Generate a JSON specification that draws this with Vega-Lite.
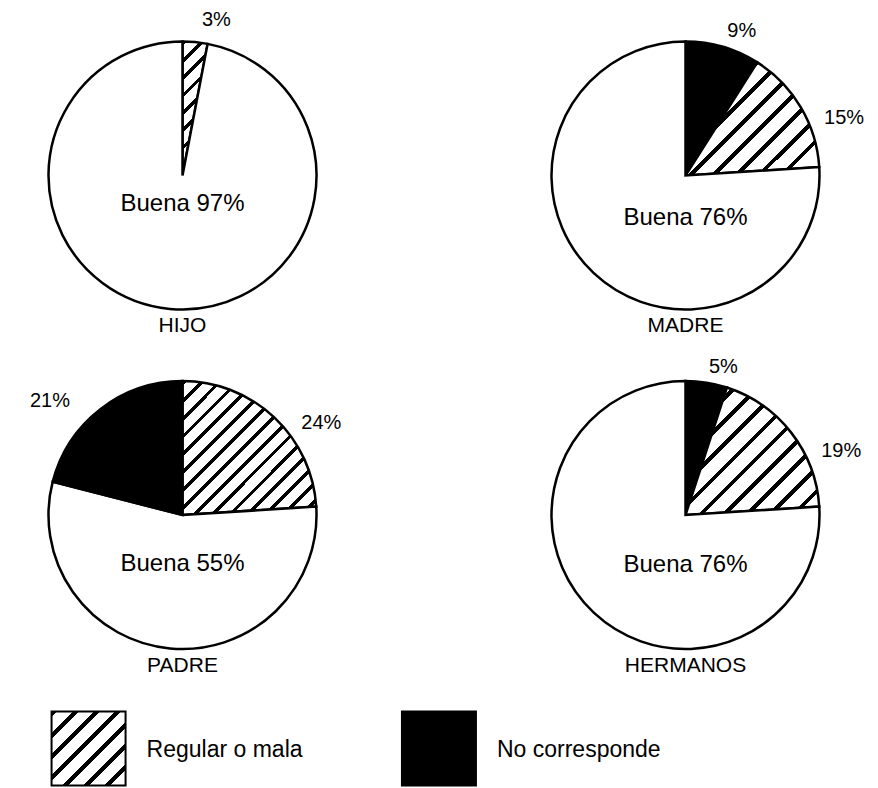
{
  "$schema": "https://vega.github.io/schema/vega-lite/v6.json",
  "padding": {"left": 29.5, "top": 9, "right": 0, "bottom": 0},
  "background": "white",
  "config": {
    "font": "Liberation Sans",
    "view": {"stroke": null},
    "title": {"fontSize": 21, "fontWeight": "normal", "color": "black", "offset": -3, "baseline": "top"}
  },
  "datasets": {
    "tabla": [
      {"relacion": "HIJO", "categoria": "Regular o mala", "valor": 3, "rotulo": "3%", "orden": 1},
      {"relacion": "HIJO", "categoria": "Buena", "valor": 97, "rotulo": "Buena 97%", "orden": 2},
      {"relacion": "MADRE", "categoria": "No corresponde", "valor": 9, "rotulo": "9%", "orden": 1},
      {"relacion": "MADRE", "categoria": "Regular o mala", "valor": 15, "rotulo": "15%", "orden": 2},
      {"relacion": "MADRE", "categoria": "Buena", "valor": 76, "rotulo": "Buena 76%", "orden": 3},
      {"relacion": "PADRE", "categoria": "Regular o mala", "valor": 24, "rotulo": "24%", "orden": 1},
      {"relacion": "PADRE", "categoria": "Buena", "valor": 55, "rotulo": "Buena 55%", "orden": 2},
      {"relacion": "PADRE", "categoria": "No corresponde", "valor": 21, "rotulo": "21%", "orden": 3},
      {"relacion": "HERMANOS", "categoria": "No corresponde", "valor": 5, "rotulo": "5%", "orden": 1},
      {"relacion": "HERMANOS", "categoria": "Regular o mala", "valor": 19, "rotulo": "19%", "orden": 2},
      {"relacion": "HERMANOS", "categoria": "Buena", "valor": 76, "rotulo": "Buena 76%", "orden": 3}
    ],
    "leyenda": [
      {"categoria": "Regular o mala"},
      {"categoria": "No corresponde"}
    ]
  },
  "spacing": 31,
  "vconcat": [
    {
      "columns": 2,
      "bounds": "flush",
      "spacing": {"row": 54.5, "column": 203},
      "concat": [
        {
          "width": 300, "height": 285,
          "data": {"name": "tabla"},
          "transform": [{"filter": "datum.relacion === 'HIJO'"}],
          "title": {"text": "HIJO", "orient": "bottom"},
          "layer": [
            {
              "mark": {"type": "arc", "outerRadius": 134, "stroke": "black", "strokeWidth": 2.5},
              "encoding": {
                "theta": {"field": "valor", "type": "quantitative", "stack": true},
                "order": {"field": "orden", "type": "quantitative"},
                "fill": {
                  "condition": [
                    {"test": "datum.categoria === 'Regular o mala'", "value": {"gradient": "linear", "x1": 0, "y1": 0, "x2": 0.187, "y2": 1, "stops": [
                      {"offset": 0, "color": "black"}, {"offset": 0.035, "color": "black"}, {"offset": 0.035, "color": "white"}, {"offset": 0.125, "color": "white"},
                      {"offset": 0.125, "color": "black"}, {"offset": 0.16, "color": "black"}, {"offset": 0.16, "color": "white"}, {"offset": 0.25, "color": "white"},
                      {"offset": 0.25, "color": "black"}, {"offset": 0.285, "color": "black"}, {"offset": 0.285, "color": "white"}, {"offset": 0.375, "color": "white"},
                      {"offset": 0.375, "color": "black"}, {"offset": 0.41, "color": "black"}, {"offset": 0.41, "color": "white"}, {"offset": 0.5, "color": "white"},
                      {"offset": 0.5, "color": "black"}, {"offset": 0.535, "color": "black"}, {"offset": 0.535, "color": "white"}, {"offset": 0.625, "color": "white"},
                      {"offset": 0.625, "color": "black"}, {"offset": 0.66, "color": "black"}, {"offset": 0.66, "color": "white"}, {"offset": 0.75, "color": "white"},
                      {"offset": 0.75, "color": "black"}, {"offset": 0.785, "color": "black"}, {"offset": 0.785, "color": "white"}, {"offset": 0.875, "color": "white"},
                      {"offset": 0.875, "color": "black"}, {"offset": 0.91, "color": "black"}, {"offset": 0.91, "color": "white"}, {"offset": 1, "color": "white"}
                    ]}},
                    {"test": "datum.categoria === 'No corresponde'", "value": "black"}
                  ],
                  "value": "white"
                }
              }
            },
            {
              "mark": {"type": "text", "radius": {"expr": "datum.categoria === 'Buena' ? 0 : 157"}, "thetaOffset": {"expr": "datum.categoria === 'Regular o mala' ? 0.03 : 0"}, "align": "left", "baseline": "middle", "fontSize": 20, "color": "black"},
              "encoding": {
                "theta": {"field": "valor", "type": "quantitative", "stack": true},
                "order": {"field": "orden", "type": "quantitative"},
                "text": {"condition": {"test": "datum.categoria !== 'Buena'", "field": "rotulo"}, "value": ""}
              }
            },
            {
              "transform": [{"filter": "datum.categoria === 'Buena'"}],
              "mark": {"type": "text", "dy": 28, "align": "center", "baseline": "middle", "fontSize": 24, "color": "black"},
              "encoding": {"text": {"field": "rotulo"}}
            }
          ]
        },
        {
          "width": 300, "height": 285,
          "data": {"name": "tabla"},
          "transform": [{"filter": "datum.relacion === 'MADRE'"}],
          "title": {"text": "MADRE", "orient": "bottom"},
          "layer": [
            {
              "mark": {"type": "arc", "outerRadius": 134, "stroke": "black", "strokeWidth": 2.5},
              "encoding": {
                "theta": {"field": "valor", "type": "quantitative", "stack": true},
                "order": {"field": "orden", "type": "quantitative"},
                "fill": {
                  "condition": [
                    {"test": "datum.categoria === 'Regular o mala'", "value": {"gradient": "linear", "x1": 0, "y1": 0, "x2": 1, "y2": 0.847, "stops": [
                      {"offset": 0, "color": "black"}, {"offset": 0.024, "color": "black"}, {"offset": 0.024, "color": "white"}, {"offset": 0.1, "color": "white"},
                      {"offset": 0.1, "color": "black"}, {"offset": 0.124, "color": "black"}, {"offset": 0.124, "color": "white"}, {"offset": 0.2, "color": "white"},
                      {"offset": 0.2, "color": "black"}, {"offset": 0.224, "color": "black"}, {"offset": 0.224, "color": "white"}, {"offset": 0.3, "color": "white"},
                      {"offset": 0.3, "color": "black"}, {"offset": 0.324, "color": "black"}, {"offset": 0.324, "color": "white"}, {"offset": 0.4, "color": "white"},
                      {"offset": 0.4, "color": "black"}, {"offset": 0.424, "color": "black"}, {"offset": 0.424, "color": "white"}, {"offset": 0.5, "color": "white"},
                      {"offset": 0.5, "color": "black"}, {"offset": 0.524, "color": "black"}, {"offset": 0.524, "color": "white"}, {"offset": 0.6, "color": "white"},
                      {"offset": 0.6, "color": "black"}, {"offset": 0.624, "color": "black"}, {"offset": 0.624, "color": "white"}, {"offset": 0.7, "color": "white"},
                      {"offset": 0.7, "color": "black"}, {"offset": 0.724, "color": "black"}, {"offset": 0.724, "color": "white"}, {"offset": 0.8, "color": "white"},
                      {"offset": 0.8, "color": "black"}, {"offset": 0.824, "color": "black"}, {"offset": 0.824, "color": "white"}, {"offset": 0.9, "color": "white"},
                      {"offset": 0.9, "color": "black"}, {"offset": 0.924, "color": "black"}, {"offset": 0.924, "color": "white"}, {"offset": 1, "color": "white"}
                    ]}},
                    {"test": "datum.categoria === 'No corresponde'", "value": "black"}
                  ],
                  "value": "white"
                }
              }
            },
            {
              "mark": {"type": "text", "radius": {"expr": "datum.categoria === 'Buena' ? 0 : 150"}, "thetaOffset": {"expr": "datum.categoria === 'Regular o mala' ? 0.14 : 0"}, "align": "left", "baseline": "middle", "fontSize": 20, "color": "black"},
              "encoding": {
                "theta": {"field": "valor", "type": "quantitative", "stack": true},
                "order": {"field": "orden", "type": "quantitative"},
                "text": {"condition": {"test": "datum.categoria !== 'Buena'", "field": "rotulo"}, "value": ""}
              }
            },
            {
              "transform": [{"filter": "datum.categoria === 'Buena'"}],
              "mark": {"type": "text", "dy": 42, "align": "center", "baseline": "middle", "fontSize": 24, "color": "black"},
              "encoding": {"text": {"field": "rotulo"}}
            }
          ]
        },
        {
          "width": 300, "height": 285,
          "data": {"name": "tabla"},
          "transform": [{"filter": "datum.relacion === 'PADRE'"}],
          "title": {"text": "PADRE", "orient": "bottom"},
          "layer": [
            {
              "mark": {"type": "arc", "outerRadius": 134, "stroke": "black", "strokeWidth": 2.5},
              "encoding": {
                "theta": {"field": "valor", "type": "quantitative", "stack": true},
                "order": {"field": "orden", "type": "quantitative"},
                "fill": {
                  "condition": [
                    {"test": "datum.categoria === 'Regular o mala'", "value": {"gradient": "linear", "x1": 0, "y1": 0, "x2": 1, "y2": 1, "stops": [
                      {"offset": 0, "color": "black"}, {"offset": 0.018, "color": "black"}, {"offset": 0.018, "color": "white"}, {"offset": 0.0667, "color": "white"},
                      {"offset": 0.0667, "color": "black"}, {"offset": 0.0847, "color": "black"}, {"offset": 0.0847, "color": "white"}, {"offset": 0.1333, "color": "white"},
                      {"offset": 0.1333, "color": "black"}, {"offset": 0.1513, "color": "black"}, {"offset": 0.1513, "color": "white"}, {"offset": 0.2, "color": "white"},
                      {"offset": 0.2, "color": "black"}, {"offset": 0.218, "color": "black"}, {"offset": 0.218, "color": "white"}, {"offset": 0.2667, "color": "white"},
                      {"offset": 0.2667, "color": "black"}, {"offset": 0.2847, "color": "black"}, {"offset": 0.2847, "color": "white"}, {"offset": 0.3333, "color": "white"},
                      {"offset": 0.3333, "color": "black"}, {"offset": 0.3513, "color": "black"}, {"offset": 0.3513, "color": "white"}, {"offset": 0.4, "color": "white"},
                      {"offset": 0.4, "color": "black"}, {"offset": 0.418, "color": "black"}, {"offset": 0.418, "color": "white"}, {"offset": 0.4667, "color": "white"},
                      {"offset": 0.4667, "color": "black"}, {"offset": 0.4847, "color": "black"}, {"offset": 0.4847, "color": "white"}, {"offset": 0.5333, "color": "white"},
                      {"offset": 0.5333, "color": "black"}, {"offset": 0.5513, "color": "black"}, {"offset": 0.5513, "color": "white"}, {"offset": 0.6, "color": "white"},
                      {"offset": 0.6, "color": "black"}, {"offset": 0.618, "color": "black"}, {"offset": 0.618, "color": "white"}, {"offset": 0.6667, "color": "white"},
                      {"offset": 0.6667, "color": "black"}, {"offset": 0.6847, "color": "black"}, {"offset": 0.6847, "color": "white"}, {"offset": 0.7333, "color": "white"},
                      {"offset": 0.7333, "color": "black"}, {"offset": 0.7513, "color": "black"}, {"offset": 0.7513, "color": "white"}, {"offset": 0.8, "color": "white"},
                      {"offset": 0.8, "color": "black"}, {"offset": 0.818, "color": "black"}, {"offset": 0.818, "color": "white"}, {"offset": 0.8667, "color": "white"},
                      {"offset": 0.8667, "color": "black"}, {"offset": 0.8847, "color": "black"}, {"offset": 0.8847, "color": "white"}, {"offset": 0.9333, "color": "white"},
                      {"offset": 0.9333, "color": "black"}, {"offset": 0.9513, "color": "black"}, {"offset": 0.9513, "color": "white"}, {"offset": 1, "color": "white"}
                    ]}},
                    {"test": "datum.categoria === 'No corresponde'", "value": "black"}
                  ],
                  "value": "white"
                }
              }
            },
            {
              "mark": {"type": "text", "radius": {"expr": "datum.categoria === 'Buena' ? 0 : (datum.categoria === 'No corresponde' ? 160 : 150)"}, "thetaOffset": {"expr": "datum.categoria === 'Regular o mala' ? 0.16 : (datum.categoria === 'No corresponde' ? -0.12 : 0)"}, "align": {"expr": "datum.categoria === 'No corresponde' ? 'right' : 'left'"}, "baseline": "middle", "fontSize": 20, "color": "black"},
              "encoding": {
                "theta": {"field": "valor", "type": "quantitative", "stack": true},
                "order": {"field": "orden", "type": "quantitative"},
                "text": {"condition": {"test": "datum.categoria !== 'Buena'", "field": "rotulo"}, "value": ""}
              }
            },
            {
              "transform": [{"filter": "datum.categoria === 'Buena'"}],
              "mark": {"type": "text", "dy": 49, "align": "center", "baseline": "middle", "fontSize": 24, "color": "black"},
              "encoding": {"text": {"field": "rotulo"}}
            }
          ]
        },
        {
          "width": 300, "height": 285,
          "data": {"name": "tabla"},
          "transform": [{"filter": "datum.relacion === 'HERMANOS'"}],
          "title": {"text": "HERMANOS", "orient": "bottom"},
          "layer": [
            {
              "mark": {"type": "arc", "outerRadius": 134, "stroke": "black", "strokeWidth": 2.5},
              "encoding": {
                "theta": {"field": "valor", "type": "quantitative", "stack": true},
                "order": {"field": "orden", "type": "quantitative"},
                "fill": {
                  "condition": [
                    {"test": "datum.categoria === 'Regular o mala'", "value": {"gradient": "linear", "x1": 0, "y1": 0, "x2": 1, "y2": 0.953, "stops": [
                      {"offset": 0, "color": "black"}, {"offset": 0.022, "color": "black"}, {"offset": 0.022, "color": "white"}, {"offset": 0.0909, "color": "white"},
                      {"offset": 0.0909, "color": "black"}, {"offset": 0.1129, "color": "black"}, {"offset": 0.1129, "color": "white"}, {"offset": 0.1818, "color": "white"},
                      {"offset": 0.1818, "color": "black"}, {"offset": 0.2038, "color": "black"}, {"offset": 0.2038, "color": "white"}, {"offset": 0.2727, "color": "white"},
                      {"offset": 0.2727, "color": "black"}, {"offset": 0.2947, "color": "black"}, {"offset": 0.2947, "color": "white"}, {"offset": 0.3636, "color": "white"},
                      {"offset": 0.3636, "color": "black"}, {"offset": 0.3856, "color": "black"}, {"offset": 0.3856, "color": "white"}, {"offset": 0.4545, "color": "white"},
                      {"offset": 0.4545, "color": "black"}, {"offset": 0.4765, "color": "black"}, {"offset": 0.4765, "color": "white"}, {"offset": 0.5455, "color": "white"},
                      {"offset": 0.5455, "color": "black"}, {"offset": 0.5675, "color": "black"}, {"offset": 0.5675, "color": "white"}, {"offset": 0.6364, "color": "white"},
                      {"offset": 0.6364, "color": "black"}, {"offset": 0.6584, "color": "black"}, {"offset": 0.6584, "color": "white"}, {"offset": 0.7273, "color": "white"},
                      {"offset": 0.7273, "color": "black"}, {"offset": 0.7493, "color": "black"}, {"offset": 0.7493, "color": "white"}, {"offset": 0.8182, "color": "white"},
                      {"offset": 0.8182, "color": "black"}, {"offset": 0.8402, "color": "black"}, {"offset": 0.8402, "color": "white"}, {"offset": 0.9091, "color": "white"},
                      {"offset": 0.9091, "color": "black"}, {"offset": 0.9311, "color": "black"}, {"offset": 0.9311, "color": "white"}, {"offset": 1, "color": "white"}
                    ]}},
                    {"test": "datum.categoria === 'No corresponde'", "value": "black"}
                  ],
                  "value": "white"
                }
              }
            },
            {
              "mark": {"type": "text", "radius": {"expr": "datum.categoria === 'Buena' ? 0 : 150"}, "thetaOffset": {"expr": "datum.categoria === 'Regular o mala' ? 0.22 : 0"}, "align": "left", "baseline": "middle", "fontSize": 20, "color": "black"},
              "encoding": {
                "theta": {"field": "valor", "type": "quantitative", "stack": true},
                "order": {"field": "orden", "type": "quantitative"},
                "text": {"condition": {"test": "datum.categoria !== 'Buena'", "field": "rotulo"}, "value": ""}
              }
            },
            {
              "transform": [{"filter": "datum.categoria === 'Buena'"}],
              "mark": {"type": "text", "dy": 50, "align": "center", "baseline": "middle", "fontSize": 24, "color": "black"},
              "encoding": {"text": {"field": "rotulo"}}
            }
          ]
        }
      ]
    },
    {
      "width": 462.5, "height": 71,
      "data": {"name": "leyenda"},
      "layer": [
        {
          "mark": {"type": "square", "size": 5476, "filled": true, "opacity": 1, "stroke": "black", "strokeWidth": 2},
          "encoding": {
            "x": {"field": "categoria", "type": "nominal", "axis": null, "scale": {"type": "point", "padding": 0.16, "domain": ["Regular o mala", "No corresponde"]}},
            "fill": {
              "condition": [
                {"test": "datum.categoria === 'Regular o mala'", "value": {"gradient": "linear", "x1": 0, "y1": 0, "x2": 1, "y2": 1, "stops": [
                  {"offset": 0, "color": "black"}, {"offset": 0.04, "color": "black"}, {"offset": 0.04, "color": "white"}, {"offset": 0.1429, "color": "white"},
                  {"offset": 0.1429, "color": "black"}, {"offset": 0.1829, "color": "black"}, {"offset": 0.1829, "color": "white"}, {"offset": 0.2857, "color": "white"},
                  {"offset": 0.2857, "color": "black"}, {"offset": 0.3257, "color": "black"}, {"offset": 0.3257, "color": "white"}, {"offset": 0.4286, "color": "white"},
                  {"offset": 0.4286, "color": "black"}, {"offset": 0.4686, "color": "black"}, {"offset": 0.4686, "color": "white"}, {"offset": 0.5714, "color": "white"},
                  {"offset": 0.5714, "color": "black"}, {"offset": 0.6114, "color": "black"}, {"offset": 0.6114, "color": "white"}, {"offset": 0.7143, "color": "white"},
                  {"offset": 0.7143, "color": "black"}, {"offset": 0.7543, "color": "black"}, {"offset": 0.7543, "color": "white"}, {"offset": 0.8571, "color": "white"},
                  {"offset": 0.8571, "color": "black"}, {"offset": 0.8971, "color": "black"}, {"offset": 0.8971, "color": "white"}, {"offset": 1, "color": "white"}
                ]}}
              ],
              "value": "black"
            }
          }
        },
        {
          "mark": {"type": "text", "align": "left", "baseline": "middle", "dx": 58, "dy": 1, "fontSize": 23, "color": "black"},
          "encoding": {
            "x": {"field": "categoria", "type": "nominal", "axis": null, "scale": {"type": "point", "padding": 0.16, "domain": ["Regular o mala", "No corresponde"]}},
            "text": {"field": "categoria"}
          }
        }
      ]
    }
  ]
}
